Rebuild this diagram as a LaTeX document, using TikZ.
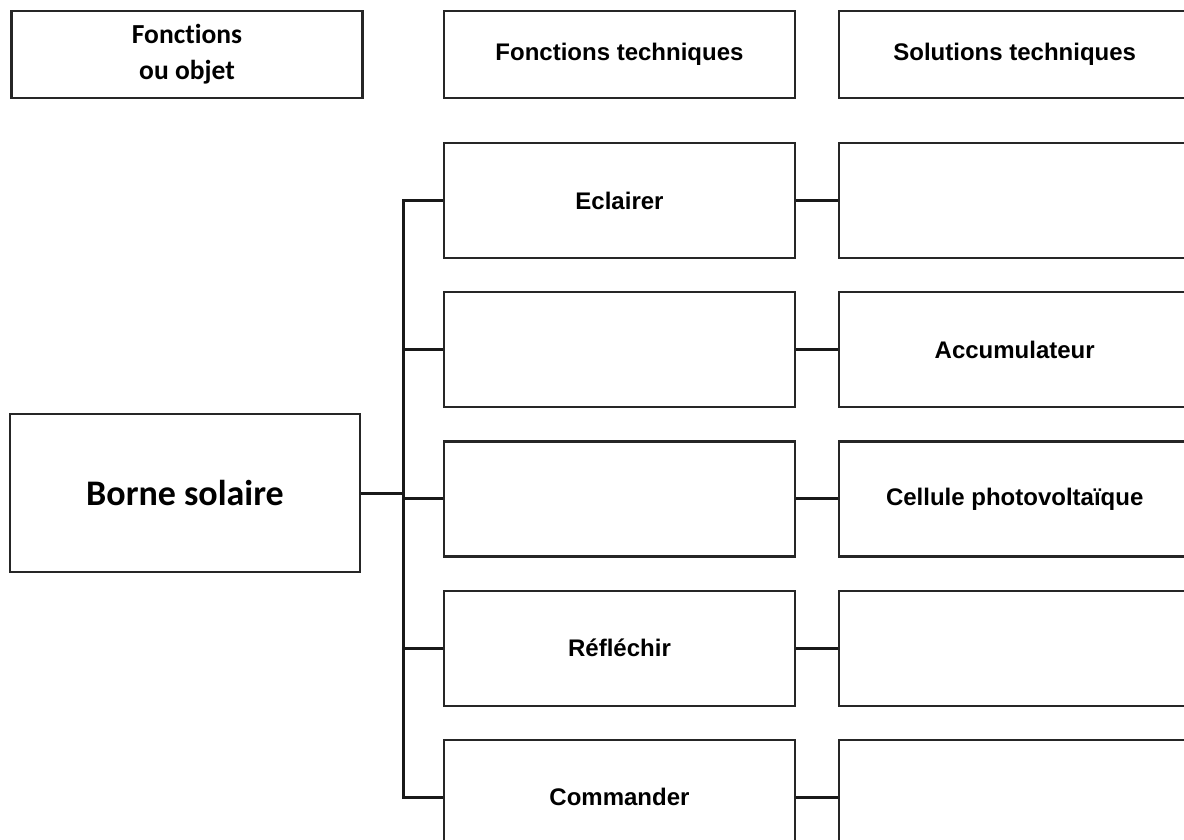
\documentclass[tikz,border=0pt]{standalone}
\usepackage{fontspec}
\newfontfamily\arialfont{Liberation Sans}
\newfontfamily\califont{Carlito}[Ligatures=NoCommon]
\usetikzlibrary{positioning}

\begin{document}
\begin{tikzpicture}[
  x=1pt, y=-1pt,
  node distance=32pt and 42pt,
  box/.style={draw=black!85, line width=2.2pt, minimum width=351pt, minimum height=115pt,
    align=center, font=\arialfont\bfseries\fontsize{24}{28}\selectfont},
  head/.style={box, minimum height=87pt},
  link/.style={line width=3pt, draw=black!90}
]
\useasboundingbox (0,0) rectangle (1184,840);
% en-tetes
\node[head, font=\califont\bfseries\fontsize{27.5}{36}\selectfont] (hobj) at (187,54.5) {Fonctions\\ou objet};
\node[head] (htech) at (619.5,54.5) {Fonctions techniques};
\node[head, right=of htech] (hsol) {Solutions techniques};
% fonctions techniques
\node[box] (eclairer) at (619.5,200.5) {Eclairer};
\node[box, below=of eclairer] (ft2) {};
\node[box, below=of ft2] (ft3) {};
\node[box, below=of ft3] (reflechir) {Réfléchir};
\node[box, below=of reflechir] (commander) {Commander};
% solutions techniques
\node[box, right=of eclairer] (st1) {};
\node[box, right=of ft2] (accu) {Accumulateur};
\node[box, right=of ft3] (cellule) {Cellule photovoltaïque};
\node[box, right=of reflechir] (st4) {};
\node[box, right=of commander] (st5) {};
% objet
\node[box, minimum width=350pt, minimum height=158pt,
  font=\califont\bfseries\fontsize{36}{40}\selectfont] (borne) at (185,493) {Borne solaire};
\coordinate (trunk) at (403,0);
\draw[link] (eclairer.west) -- (eclairer.west -| trunk) -- (commander.west -| trunk) -- (commander.west);
\foreach \f in {ft2, ft3, reflechir}
  \draw[link] (\f.west) -- (\f.west -| trunk);
\draw[link] (borne.east) -- (borne.east -| trunk);
\foreach \f/\s in {eclairer/st1, ft2/accu, ft3/cellule, reflechir/st4, commander/st5}
  \draw[link] (\f) -- (\s);
\end{tikzpicture}
\end{document}
